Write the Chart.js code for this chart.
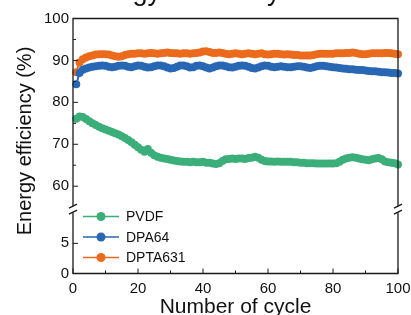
<!DOCTYPE html>
<html lang="en">
<head>
  <meta charset="UTF-8">
  <title>Energy efficiency</title>
  <script src="https://cdn.jsdelivr.net/npm/chart.js"></script>
  <style>
    html, body { margin: 0; padding: 0; background: #fff; }
    #grafica { width: 411px; height: 315px; }
  </style>
</head>
<body>
  <div id="grafica"><canvas id="myChart"></canvas></div>
  <script>
    // numero de ciclo
    const cycles = [1,2,3,4,5,6,7,8,9,10,11,12,13,14,15,16,17,18,19,20,
      21,22,23,24,25,26,27,28,29,30,31,32,33,34,35,36,37,38,39,40,
      41,42,43,44,45,46,47,48,49,50,51,52,53,54,55,56,57,58,59,60,
      61,62,63,64,65,66,67,68,69,70,71,72,73,74,75,76,77,78,79,80,
      81,82,83,84,85,86,87,88,89,90,91,92,93,94,95,96,97,98,99,100];

    // eficiencia energetica (%)
    const pvdf = [76.1,76.6,76.5,76.0,75.5,75.0,74.6,74.2,73.8,73.5,
      73.2,72.9,72.6,72.3,71.9,71.5,71.0,70.5,69.9,69.3,
      68.7,68.2,68.9,68.0,67.4,67.0,66.8,66.6,66.5,66.3,
      66.1,66.0,65.9,65.8,65.8,65.7,65.8,65.7,65.7,65.8,
      65.6,65.6,65.4,65.3,65.5,66.0,66.4,66.5,66.6,66.5,
      66.6,66.6,66.5,66.7,66.8,67.0,66.8,66.3,66.0,65.9,
      65.9,65.8,65.9,65.8,65.8,65.8,65.8,65.7,65.7,65.6,
      65.6,65.5,65.5,65.5,65.4,65.4,65.4,65.4,65.4,65.4,
      65.5,65.8,66.3,66.6,66.8,66.9,66.8,66.6,66.4,66.3,
      66.2,66.4,66.6,66.7,66.4,65.9,65.7,65.6,65.5,65.2];
    const dpa64 = [84.3,87.0,87.8,88.1,88.3,88.5,88.6,88.7,88.8,88.7,
      88.5,88.4,88.5,88.7,88.8,88.7,88.5,88.4,88.6,88.8,
      88.7,88.5,88.3,88.4,88.6,88.8,88.8,88.6,88.3,88.1,
      88.2,88.5,88.8,88.8,88.6,88.3,88.4,88.7,88.8,88.6,
      88.3,88.1,88.3,88.6,88.8,88.8,88.6,88.4,88.3,88.5,
      88.7,88.8,88.7,88.5,88.2,88.1,88.3,88.6,88.8,88.7,
      88.5,88.4,88.5,88.6,88.5,88.4,88.4,88.5,88.6,88.6,
      88.5,88.3,88.2,88.4,88.6,88.7,88.7,88.6,88.5,88.4,
      88.3,88.2,88.1,88.0,87.9,87.9,87.8,87.7,87.7,87.6,
      87.5,87.4,87.4,87.3,87.2,87.2,87.1,87.0,87.0,86.9];
    const dpta631 = [87.2,89.5,90.3,90.7,91.0,91.2,91.4,91.5,91.5,91.5,
      91.4,91.2,91.0,90.9,91.0,91.3,91.5,91.6,91.6,91.7,
      91.7,91.6,91.7,91.8,91.7,91.6,91.7,91.8,91.9,91.8,
      91.7,91.7,91.6,91.7,91.7,91.6,91.7,91.8,91.9,92.1,
      92.2,92.0,91.8,91.8,91.9,91.8,91.6,91.5,91.6,91.7,
      91.6,91.5,91.6,91.7,91.6,91.5,91.6,91.7,91.5,91.4,
      91.5,91.6,91.6,91.5,91.4,91.5,91.4,91.3,91.3,91.2,
      91.2,91.2,91.2,91.3,91.5,91.6,91.6,91.6,91.6,91.6,
      91.7,91.7,91.7,91.8,91.8,91.9,91.8,91.6,91.5,91.5,
      91.6,91.7,91.7,91.7,91.7,91.8,91.8,91.7,91.6,91.5];

    const seriesNames = ['PVDF', 'DPA64', 'DPTA631'];
    const xTicks = [0, 20, 40, 60, 80, 100];
    const xMinor = [10, 30, 50, 70, 90];
    const yTicksUpper = [60, 70, 80, 90, 100];
    const yMinorUpper = [65, 75, 85, 95];
    const yTicksLower = [0, 5];

    const FONT = '"Liberation Sans", Arial, sans-serif';
    Chart.defaults.font.family = FONT;
    Chart.defaults.color = '#111';

    const colores = ['#3bae79', '#2767b4', '#ec6a1c'];

    function puntos(vals) {
      return vals.map((v, i) => ({ x: cycles[i], y: v }));
    }

    // marco, marcas de corte, ticks hacia dentro, leyenda y titulos
    const marco = {
      id: 'marco',
      afterDraw(chart) {
        const ctx = chart.ctx;
        const xs = chart.scales.x, yu = chart.scales.y, yl = chart.scales.yLow;
        const left = xs.left, right = xs.right, top = yu.top, bottom = yl.bottom;
        const brk = yu.bottom + 2;
        ctx.save();
        ctx.strokeStyle = '#1a1a1a';
        ctx.lineWidth = 1.3;
        ctx.beginPath();
        ctx.moveTo(left, brk - 3); ctx.lineTo(left, top); ctx.lineTo(right, top); ctx.lineTo(right, brk - 3);
        ctx.moveTo(left, brk + 3); ctx.lineTo(left, bottom); ctx.lineTo(right, bottom); ctx.lineTo(right, brk + 3);
        ctx.stroke();
        [left, right].forEach(x => {
          ctx.beginPath();
          ctx.moveTo(x - 4, brk - 1); ctx.lineTo(x + 4, brk - 5);
          ctx.moveTo(x - 4, brk + 5); ctx.lineTo(x + 4, brk + 1);
          ctx.stroke();
        });
        ctx.lineWidth = 1;
        ctx.beginPath();
        xTicks.forEach(v => { const p = xs.getPixelForValue(v); ctx.moveTo(p, bottom); ctx.lineTo(p, bottom - 5); });
        xMinor.forEach(v => { const p = xs.getPixelForValue(v); ctx.moveTo(p, bottom); ctx.lineTo(p, bottom - 3); });
        yTicksUpper.forEach(v => { const p = yu.getPixelForValue(v); ctx.moveTo(left, p); ctx.lineTo(left + 5, p); });
        yMinorUpper.forEach(v => { const p = yu.getPixelForValue(v); ctx.moveTo(left, p); ctx.lineTo(left + 3, p); });
        yTicksLower.forEach(v => { const p = yl.getPixelForValue(v); ctx.moveTo(left, p); ctx.lineTo(left + 5, p); });
        ctx.stroke();

        // leyenda
        ctx.font = '14px ' + FONT;
        ctx.textBaseline = 'middle';
        ctx.textAlign = 'left';
        seriesNames.forEach((n, i) => {
          const y = bottom - 57 + i * 20.5;
          ctx.strokeStyle = colores[i];
          ctx.lineWidth = 1.5;
          ctx.beginPath(); ctx.moveTo(left + 10, y); ctx.lineTo(left + 46, y); ctx.stroke();
          ctx.fillStyle = colores[i];
          ctx.beginPath(); ctx.arc(left + 28, y, 4.5, 0, Math.PI * 2); ctx.fill();
          ctx.fillStyle = '#111';
          ctx.fillText(n, left + 53, y + 1);
        });

        // titulo eje X
        ctx.font = '21px ' + FONT;
        ctx.textAlign = 'center';
        ctx.textBaseline = 'alphabetic';
        ctx.fillText('Number of cycle', (left + right) / 2, bottom + 39.5);

        // titulo eje Y
        ctx.font = '20px ' + FONT;
        ctx.translate(left - 42.5, 141);
        ctx.rotate(-Math.PI / 2);
        ctx.fillText('Energy efficiency (%)', 0, 0);
        ctx.restore();

        // titulo superior (cortado)
        ctx.save();
        ctx.font = '27px ' + FONT;
        ctx.textAlign = 'center';
        ctx.textBaseline = 'alphabetic';
        ctx.fillStyle = '#111';
        ctx.fillText('Energy efficiency', 178, 0);
        ctx.restore();
      }
    };

    const ds = (label, vals, i) => ({
      label: label,
      data: puntos(vals),
      yAxisID: 'y',
      borderColor: colores[i],
      backgroundColor: colores[i],
      borderWidth: 2,
      pointRadius: 4,
      pointBorderWidth: 0,
      tension: 0,
      clip: false
    });

    const anchoY = s => { s.width = 29; };

    const chart = new Chart(document.getElementById('myChart').getContext('2d'), {
      type: 'line',
      data: {
        datasets: [
          ds(seriesNames[0], pvdf, 0),
          ds(seriesNames[1], dpa64, 1),
          ds(seriesNames[2], dpta631, 2)
        ]
      },
      options: {
        responsive: true,
        maintainAspectRatio: false,
        animation: false,
        layout: { padding: { left: 44, top: 18.5, right: 0, bottom: 17.5 } },
        plugins: { legend: { display: false }, tooltip: { enabled: false } },
        scales: {
          x: {
            type: 'linear', min: 0, max: 100,
            grid: { display: false, drawTicks: false },
            border: { display: false },
            afterBuildTicks: s => { s.ticks = xTicks.map(v => ({ value: v })); },
            afterFit: s => { s.height = 24; s.paddingRight = 13; s.paddingLeft = 0; },
            ticks: { font: { size: 15 }, padding: 6, maxRotation: 0 }
          },
          yLow: {
            type: 'linear', position: 'left', stack: 'izq', stackWeight: 11 * 6,
            min: 0, max: 11,
            grid: { display: false, drawTicks: false },
            border: { display: false },
            afterBuildTicks: s => { s.ticks = yTicksLower.map(v => ({ value: v })); },
            afterFit: anchoY,
            ticks: { font: { size: 15 }, padding: 4 }
          },
          y: {
            type: 'linear', position: 'left', stack: 'izq', stackWeight: 45 * 4.17,
            min: 55, max: 100,
            grid: { display: false, drawTicks: false },
            border: { display: false },
            afterBuildTicks: s => { s.ticks = yTicksUpper.map(v => ({ value: v })); },
            afterFit: anchoY,
            ticks: { font: { size: 15 }, padding: 4 }
          }
        }
      },
      plugins: [marco]
    });
  </script>
</body>
</html>
